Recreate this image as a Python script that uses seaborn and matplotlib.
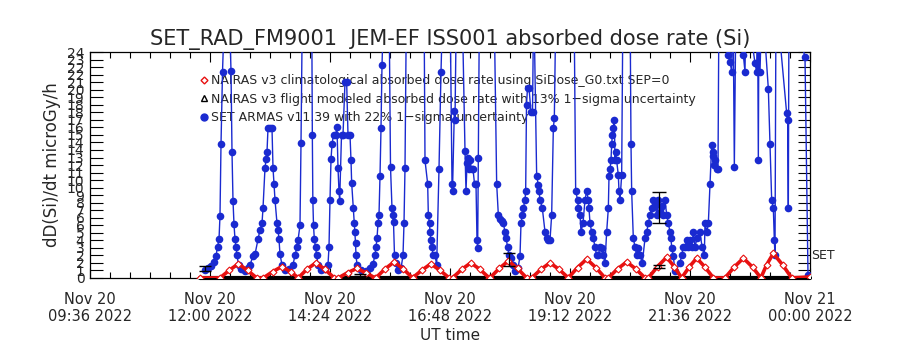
"""SET_RAD dose-rate comparison, recreated with seaborn."""
import matplotlib
matplotlib.use('Agg')
import numpy as np
import pandas as pd
import matplotlib.pyplot as plt
import matplotlib.dates as mdates
import seaborn as sns
from matplotlib.lines import Line2D
from matplotlib.ticker import MultipleLocator, FuncFormatter

# %%
# data, times in minutes after 2022-11-20 00:00 UT, dose in microGy/h
red_t = [708, 732, 743, 754, 765, 776, 784, 795, 806, 817, 826,
         826, 836, 847, 858, 869, 874, 885, 896, 907, 918,
         919, 930, 941, 952, 963, 963, 974, 985, 996, 1007,
         1011, 1022, 1033, 1044, 1055, 1056, 1067, 1078, 1089, 1100,
         1106, 1117, 1128, 1139, 1150, 1150, 1161, 1172, 1183, 1194,
         1198, 1209, 1220, 1231, 1242, 1246, 1257, 1268, 1277, 1286,
         1286, 1295, 1304, 1314, 1324, 1338, 1349, 1360, 1371, 1381,
         1381, 1388, 1396, 1407, 1418, 1440]
red_v = [0.0, 0.0, 0.8, 1.5, 0.8, 0.0, 0.0, 0.65, 1.2, 0.65, 0.0,
         0.0, 0.9, 1.6, 0.9, 0.0, 0.0, 0.55, 1.0, 0.55, 0.0,
         0.0, 0.95, 1.7, 0.95, 0.0, 0.0, 0.8, 1.5, 0.8, 0.0,
         0.0, 0.9, 1.6, 0.9, 0.0, 0.0, 1.0, 1.8, 1.0, 0.0,
         0.0, 0.9, 1.6, 0.9, 0.0, 0.0, 1.1, 2.0, 1.1, 0.0,
         0.0, 0.95, 1.7, 0.95, 0.0, 0.0, 1.2, 2.2, 1.2, 0.0,
         0.0, 1.15, 2.1, 1.15, 0.0, 0.0, 1.15, 2.1, 1.15, 0.0,
         0.0, 1.4, 2.6, 1.4, 0.0, 0.1]

blue_t = [714, 717.6, 721.2, 724.8, 727.2, 729, 730.8, 732, 733.2, 735, 738, 742.8,
          745.2, 746.4, 747.6, 748.8, 750, 751.2, 752.4, 754.2, 757.2, 762, 765.6,
          768, 771.6, 774, 777.6, 780, 782.4, 783.6, 786, 787.2, 788.4, 789.6, 792,
          794.4, 795.6, 796.8, 798, 800.4, 801.6, 802.8, 804, 806.4, 810, 814.8,
          819.6, 822, 824.4, 825.6, 828, 829.2, 831, 836.4, 842, 842.8, 843.4, 844.2,
          845.2, 846.6, 848, 849.6, 853.2, 858,
          861.6, 862.8, 864, 865.2, 866.4, 868.2, 870.6, 872.4, 873.6, 874.8, 875.6,
          877.8, 879.6, 882, 884, 885.6, 888, 889.2, 890, 892, 893.2, 893.8, 894.6,
          895.2, 896.4, 901.2, 907.2, 912,
          915.6, 918, 919.2, 920.4, 921.6, 922.8, 924, 925.2, 926.4, 928.8, 934.8,
          936.6, 938.4, 939.2, 940.2, 941.4, 942.6, 945.6, 949.2,
          951.6, 952.8, 954, 955.8, 966, 976.8, 978, 981.2, 982, 983.4, 984, 985.2,
          986, 988, 990, 992, 994.8, 997.2, 999.6, 1008, 1010.4, 1011, 1013.2, 1014,
          1015.8, 1022.4, 1026, 1027.2, 1028.4, 1029.6, 1030.8, 1032, 1033.8, 1035.6,
          1037.4, 1039.2, 1040.4, 1041.2, 1042, 1043.4, 1060.8,
          1064, 1066, 1068, 1070, 1072, 1074, 1075.2, 1077.2, 1078.8, 1081.2, 1084,
          1086, 1089.6, 1092, 1093.2, 1094.8, 1096, 1098, 1098.8, 1099.8, 1101,
          1102.8, 1105.2, 1107, 1108.5, 1112, 1114, 1114.8, 1116, 1118.8, 1122,
          1124, 1126, 1128, 1130, 1132, 1133.2, 1135.2, 1156.8,
          1158.8, 1161.2, 1162, 1164, 1165.2, 1167.6, 1170, 1172, 1174, 1174.8,
          1176, 1178, 1180, 1182, 1184, 1186, 1188, 1190, 1192, 1194, 1196, 1198,
          1198.8, 1200, 1201.2, 1202, 1202.8, 1204, 1205.2, 1206, 1206.8, 1208,
          1210, 1210.8, 1212, 1214, 1215.6, 1224,
          1225.2, 1226, 1228, 1230, 1232, 1234, 1236, 1238.8, 1242, 1244, 1246,
          1248, 1250, 1252, 1254, 1256.4, 1258, 1260, 1262, 1263.6, 1266, 1268,
          1270, 1272, 1273.2, 1274, 1276, 1278,
          1284, 1286, 1288, 1290, 1292, 1293.6, 1296, 1298, 1300, 1302, 1304.4,
          1308, 1310.4, 1313.2, 1314, 1316.4, 1318, 1320, 1322, 1323, 1324, 1324.8,
          1326, 1328, 1329.6, 1330.8, 1339.2,
          1341.6, 1344, 1346, 1347.6, 1349.2, 1351.2, 1360, 1362, 1363.2, 1374,
          1376, 1377, 1378, 1378.8, 1380, 1382.4, 1390, 1392, 1394, 1396, 1397.2,
          1398, 1399.2, 1412, 1413.2, 1414, 1414.8, 1434, 1437.6]
blue_v = [0.8, 1.0, 1.3, 1.7, 2.3, 3.3, 4.1, 6.6, 14.2, 21.9, 30, 30,
          22.0, 13.4, 8.2, 5.7, 4.1, 3.3, 2.4, 1.4, 0.9, 0.7, 1.0,
          1.4, 2.3, 2.5, 4.1, 5.1, 5.8, 7.4, 11.7, 12.6, 13.4, 15.9, 15.9,
          15.9, 11.7, 10.0, 8.3, 5.8, 5.1, 4.1, 2.5, 1.4, 0.8, 0.9,
          1.4, 2.4, 3.3, 4.0, 5.6, 14.3, 30, 30, 30, 15.2, 8.3, 5.6,
          4.1, 3.3, 2.4, 1.4, 0.8, 0.9,
          1.4, 3.3, 8.3, 12.6, 14.2, 15.2, 15.2, 16.0, 11.7, 9.2, 8.2,
          15.2, 15.2, 20.8, 20.8, 15.2, 15.2, 12.5, 10.1, 7.4, 5.8, 4.9, 3.7,
          2.4, 1.4, 0.8, 0.7, 1.0,
          1.5, 2.4, 3.3, 4.2, 5.8, 6.7, 10.8, 15.9, 22.6, 30, 30,
          11.8, 7.4, 6.7, 5.9, 2.4, 1.6, 0.8, 1.0,
          2.4, 5.8, 11.7, 30, 32, 30, 12.5, 10.0, 6.7, 5.8, 4.9, 4.0,
          3.3, 2.4, 2.4, 1.4, 11.6, 21.9, 30, 30, 10.0, 9.2, 17.7, 16.8,
          30, 30, 13.5, 9.2, 12.2, 12.7, 11.6, 12.5, 11.6, 11.6,
          10.0, 10.0, 4.0, 3.2, 12.7, 30, 30,
          10.0, 6.7, 6.3, 6.0, 5.8, 4.9, 4.2, 3.3, 2.4, 2.1, 1.4,
          0.7, 1.0, 2.3, 5.8, 6.7, 7.4, 8.3, 9.2, 18.4, 20.2,
          20.2, 17.6, 17.6, 30, 10.8, 9.9, 9.2, 8.3, 7.4, 4.9,
          4.2, 4.0, 4.0, 6.7, 15.9, 17.0, 30, 30,
          9.2, 8.3, 7.4, 6.7, 4.9, 5.8, 8.3, 9.2, 8.3, 7.4,
          5.8, 4.9, 4.2, 3.3, 2.4, 2.4, 3.3, 3.2, 2.4, 1.6, 4.9, 7.4,
          10.8, 11.6, 12.5, 14.2, 15.2, 15.9, 16.8, 12.5, 13.4, 12.5,
          10.9, 9.2, 8.3, 10.9, 30, 30,
          14.2, 9.2, 4.2, 3.3, 2.4, 3.2, 2.4, 1.6, 4.2, 4.9, 5.8,
          6.7, 7.4, 8.3, 7.6, 6.7, 8.3, 7.0, 7.6, 6.7, 8.3, 6.7,
          5.8, 4.9, 4.2, 3.2, 2.3, 0.7,
          1.6, 2.4, 3.3, 3.3, 4.0, 3.3, 4.0, 3.3, 4.9, 3.3, 4.2,
          4.9, 3.3, 2.4, 5.8, 4.9, 5.8, 10.0, 14.1, 13.0, 13.4, 12.0,
          12.5, 11.6, 11.6, 30, 30,
          23.7, 23.0, 21.9, 30, 11.8, 30, 23.7, 21.9, 30, 22.8,
          21.9, 30, 12.5, 30, 21.9, 30, 20.1, 14.2, 8.3, 7.4, 4.0,
          2.4, 30, 17.5, 16.8, 7.4, 30, 23.5, 0.3]

# NAIRAS flight modeled points with 13% error bars, SET ARMAS 22% bar
flight_t = [714, 900, 1078.8, 1258.8]
flight_v = [1.0, 0.3, 2.0, 1.2]
flight_err = [0.3, 0.15, 0.7, 0.2]
armas_err_t = [1258.8]
armas_err_v = [7.5]
armas_err = [1.65]
base_t = [708, 1440]
base_v = [0.0, 0.0]

day0 = pd.Timestamp('2022-11-20')


def to_time(minutes):
    return day0 + pd.to_timedelta(np.asarray(minutes, dtype=float), unit='m')


# %%
sns.set_style('ticks')
plt.rcParams['font.family'] = ['DejaVu Sans']

fig = plt.figure(figsize=(9, 3.5), dpi=100)
ax = fig.add_axes([0.1, 0.206, 0.8, 0.645])

blue = '#1a2ad0'
red = '#e81010'

df_blue = pd.DataFrame({'time': to_time(blue_t), 'dose': blue_v})
df_red = pd.DataFrame({'time': to_time(red_t), 'dose': red_v})

sns.lineplot(data=df_blue, x='time', y='dose', sort=False, estimator=None,
             color=blue, linewidth=1.0, marker='o', markersize=5.5,
             markeredgewidth=0, ax=ax, zorder=3, legend=False)
ax.plot(to_time(base_t), base_v, color='black', lw=3, zorder=4, clip_on=False)
sns.lineplot(data=df_red, x='time', y='dose', sort=False, estimator=None,
             color=red, linewidth=2.6, marker='D', markersize=3.5,
             markerfacecolor='white', markeredgecolor=red, markeredgewidth=0.8,
             ax=ax, zorder=5, legend=False)

ax.errorbar(to_time(flight_t), flight_v, yerr=flight_err, fmt='none',
            ecolor='black', elinewidth=0.9, capsize=4, zorder=6)
ax.errorbar(to_time(armas_err_t), armas_err_v, yerr=armas_err, fmt='none',
            ecolor='black', elinewidth=0.9, capsize=5, zorder=6)

# axes
ax.set_xlim(to_time([576, 1440]))
ax.set_ylim(0, 24)
ax.set_xticks(to_time(np.arange(576, 1441, 144)))
ax.set_xticks(to_time(np.arange(576, 1441, 24)), minor=True)
ax.xaxis.set_major_formatter(mdates.DateFormatter('%b %d\n%H:%M %Y'))
ax.yaxis.set_major_locator(MultipleLocator(0.8))
ax.yaxis.set_major_formatter(FuncFormatter(lambda v, p: '%d' % round(v)))

ax.tick_params(axis='both', which='both', direction='in', top=True, right=True,
               color='black', width=0.8)
ax.tick_params(axis='y', which='major', length=9, labelsize=10, pad=4)
ax.tick_params(axis='x', which='major', length=7, labelsize=10.5, pad=10)
ax.tick_params(axis='x', which='minor', length=4)
for lab in ax.get_xticklabels():
    lab.set_linespacing(1.15)
for sp in ax.spines.values():
    sp.set_color('black')
    sp.set_linewidth(0.9)

ax.set_xlabel('UT time', fontsize=11, labelpad=3)
ax.set_ylabel('dD(Si)/dt microGy/h', fontsize=12, labelpad=4)
ax.set_title('SET_RAD_FM9001  JEM-EF ISS001 absorbed dose rate (Si)',
             fontsize=15, pad=5)

ax.text(1.002, 2.4, 'SET', transform=ax.get_yaxis_transform(),
        fontsize=9, ha='left', va='center')

handles = [
    Line2D([], [], ls='none', marker='D', ms=3.5, mfc='white', mec=red, mew=1),
    Line2D([], [], ls='none', marker='^', ms=4, mfc='white', mec='black', mew=1),
    Line2D([], [], ls='none', marker='o', ms=5, mfc=blue, mec=blue),
]
labels = [
    'NAIRAS v3 climatological absorbed dose rate using SiDose_G0.txt SEP=0',
    'NAIRAS v3 flight modeled absorbed dose rate with 13% 1\u2212sigma uncertainty',
    'SET ARMAS v11.39 with 22% 1\u2212sigma uncertainty',
]
leg = ax.legend(handles, labels, loc='upper left', bbox_to_anchor=(0.145, 0.93),
                frameon=False, fontsize=9, handlelength=0.6, handletextpad=0.2,
                labelspacing=0.45, borderpad=0)
leg.set_zorder(1)

plt.savefig('out.png', dpi=100)
